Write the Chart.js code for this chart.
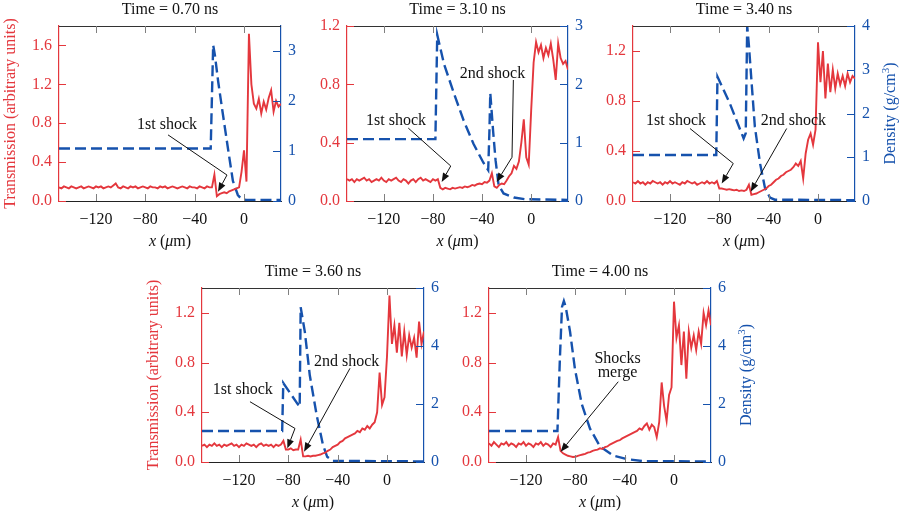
<!DOCTYPE html>
<html>
<head>
<meta charset="utf-8">
<script src="https://cdn.jsdelivr.net/npm/chart.js@4.4.1/dist/chart.umd.min.js"></script>
<style>
  body { margin: 0; background: #fff; }
  #wrap { position: relative; width: 900px; height: 511px; }
  #wrap canvas { position: absolute; left: 0; top: 0; }
</style>
</head>
<body>
<div id="wrap">
  <canvas id="p070" width="900" height="511"></canvas>
  <canvas id="p310" width="900" height="511"></canvas>
  <canvas id="p340" width="900" height="511"></canvas>
  <canvas id="p360" width="900" height="511"></canvas>
  <canvas id="p400" width="900" height="511"></canvas>
</div>
<script>
const RED = '#e4373d';
const BLUE = '#1652ad';
const FONT = "'Liberation Serif', 'Times New Roman', serif";

// positions along x (um) where transmission was sampled
const transX = [
	-150, -148, -146, -144, -142, -140, -138, -136, -134, -132,
	-130, -128, -126, -124, -122, -120, -118, -116, -114, -112,
	-110, -108, -106, -104, -102, -100, -98, -96, -94, -92,
	-90, -88, -86, -84, -82, -80, -78, -76, -74, -72,
	-70, -68, -66, -64, -62, -60, -58, -56, -54, -52,
	-50, -48, -46, -44, -42, -40, -38, -36, -34, -32,
	-30, -28, -26, -24, -22, -20, -18, -16, -14, -12,
	-10, -8, -6, -4, -2, 0, 2, 4, 6, 8,
	10, 12, 14, 16, 18, 20, 22, 24, 26, 28,
	30,
];

const trans070 = [
	0.14, 0.13, 0.15, 0.14, 0.13, 0.15, 0.14, 0.13, 0.14, 0.15,
	0.13, 0.14, 0.15, 0.14, 0.13, 0.15, 0.14, 0.15, 0.13, 0.14,
	0.15, 0.14, 0.16, 0.18, 0.14, 0.13, 0.15, 0.14, 0.13, 0.15,
	0.14, 0.15, 0.13, 0.14, 0.15, 0.14, 0.13, 0.15, 0.14, 0.14,
	0.13, 0.15, 0.14, 0.15, 0.13, 0.14, 0.15, 0.14, 0.13, 0.14,
	0.15, 0.14, 0.13, 0.15, 0.14, 0.14, 0.13, 0.15, 0.14, 0.13,
	0.15, 0.14, 0.14, 0.27, 0.05, 0.07, 0.08, 0.09, 0.08, 0.10,
	0.11, 0.12, 0.13, 0.14, 0.30, 0.52, 0.20, 1.72, 1.20, 1.00,
	0.95, 1.05, 0.90, 1.02, 0.94, 1.06, 1.14, 0.92, 1.03, 0.97,
	1.00,
];
const trans310 = [
	0.15, 0.14, 0.15, 0.13, 0.15, 0.14, 0.15, 0.16, 0.14, 0.15,
	0.13, 0.14, 0.15, 0.14, 0.16, 0.14, 0.13, 0.15, 0.14, 0.15,
	0.16, 0.14, 0.13, 0.15, 0.14, 0.12, 0.14, 0.15, 0.13, 0.15,
	0.16, 0.14, 0.15, 0.14, 0.13, 0.15, 0.14, 0.15, 0.09, 0.08,
	0.09, 0.085, 0.08, 0.09, 0.085, 0.09, 0.095, 0.09, 0.10, 0.095,
	0.10, 0.11, 0.105, 0.115, 0.12, 0.115, 0.13, 0.125, 0.14, 0.19,
	0.10, 0.09, 0.11, 0.12, 0.115, 0.14, 0.17, 0.19, 0.24, 0.22,
	0.27, 0.40, 0.56, 0.30, 0.25, 0.62, 0.95, 1.09, 1.02, 1.07,
	0.98, 1.05, 1.00, 1.08, 0.97, 0.83, 1.08, 0.98, 0.94, 0.96,
	0.90,
];
const trans340 = [
	0.15, 0.14, 0.16, 0.14, 0.15, 0.13, 0.15, 0.14, 0.16, 0.15,
	0.14, 0.15, 0.13, 0.15, 0.14, 0.16, 0.14, 0.15, 0.14, 0.13,
	0.15, 0.14, 0.16, 0.15, 0.14, 0.15, 0.13, 0.14, 0.15, 0.14,
	0.16, 0.14, 0.15, 0.14, 0.16, 0.10, 0.10, 0.095, 0.09, 0.095,
	0.09, 0.085, 0.09, 0.08, 0.085, 0.08, 0.09, 0.13, 0.05, 0.055,
	0.06, 0.07, 0.08, 0.09, 0.10, 0.12, 0.13, 0.15, 0.17, 0.18,
	0.20, 0.21, 0.23, 0.24, 0.25, 0.27, 0.30, 0.28, 0.32, 0.18,
	0.38, 0.49, 0.54, 0.45, 0.57, 1.27, 0.95, 1.20, 0.82, 1.10,
	0.87, 1.05, 0.90, 1.02, 0.93, 1.00, 0.92, 1.02, 0.95, 1.00,
	0.98,
];
const trans360 = [
	0.13, 0.14, 0.12, 0.14, 0.13, 0.15, 0.13, 0.14, 0.12, 0.14,
	0.13, 0.14, 0.15, 0.13, 0.14, 0.12, 0.14, 0.13, 0.15, 0.14,
	0.13, 0.14, 0.12, 0.14, 0.15, 0.13, 0.14, 0.13, 0.14, 0.12,
	0.14, 0.13, 0.14, 0.17, 0.10, 0.10, 0.11, 0.095, 0.10, 0.10,
	0.18, 0.045, 0.045, 0.05, 0.045, 0.05, 0.05, 0.055, 0.06, 0.07,
	0.075, 0.09, 0.10, 0.12, 0.13, 0.14, 0.16, 0.17, 0.19, 0.20,
	0.21, 0.22, 0.23, 0.25, 0.24, 0.27, 0.26, 0.29, 0.27, 0.30,
	0.32, 0.40, 0.72, 0.46, 0.52, 0.85, 1.34, 0.95, 1.10, 0.88,
	1.12, 0.85, 1.05, 0.86, 1.02, 0.92, 1.00, 0.84, 1.13, 0.95,
	1.05,
];
const trans400 = [
	0.15, 0.13, 0.16, 0.14, 0.12, 0.15, 0.14, 0.16, 0.13, 0.15,
	0.14, 0.12, 0.15, 0.14, 0.16, 0.13, 0.15, 0.14, 0.12, 0.15,
	0.14, 0.16, 0.13, 0.15, 0.14, 0.12, 0.15, 0.14, 0.20, 0.09,
	0.07, 0.06, 0.05, 0.045, 0.04, 0.042, 0.05, 0.055, 0.06, 0.065,
	0.075, 0.08, 0.09, 0.095, 0.10, 0.11, 0.105, 0.12, 0.125, 0.14,
	0.15, 0.16, 0.17, 0.175, 0.19, 0.20, 0.21, 0.22, 0.23, 0.24,
	0.25, 0.27, 0.26, 0.29, 0.31, 0.26, 0.30, 0.28, 0.20, 0.32,
	0.64, 0.45, 0.33, 0.54, 0.60, 1.29, 1.00, 1.10, 0.78, 1.05,
	0.67, 1.05, 0.92, 1.02, 0.90, 1.05, 0.95, 1.20, 1.10, 1.22,
	1.10,
];

// density profiles (g/cm3)
const dens070X = [-150, -27, -25, -23.5, -21, -17.5, -13, -9, -5, -2, 2, 30];
const dens070 = [1.05, 1.05, 3.12, 2.9, 2.4, 1.8, 1.05, 0.4, 0.12, 0.04, 0.02, 0.02];
const dens310X = [-150, -78, -76.5, -71, -63, -55, -47, -39, -35, -34, -33.3, -31, -29, -26.5, -22.5, -14, -5, 30];
const dens310 = [1.06, 1.06, 2.85, 2.35, 1.85, 1.38, 0.98, 0.66, 0.53, 1.2, 1.85, 1.2, 0.7, 0.27, 0.13, 0.06, 0.03, 0.02];
const dens340X = [-150, -82.5, -81.5, -71.5, -60.3, -58.6, -57.4, -56, -54, -51.2, -47, -43, -39, -35, 30];
const dens340 = [1.05, 1.05, 2.84, 2.23, 1.43, 1.55, 4.0, 3.55, 2.77, 1.7, 0.86, 0.3, 0.08, 0.03, 0.02];
const dens360X = [-150, -85, -84.1, -72, -70.8, -70, -66.6, -62.6, -57, -52, -48.5, -44, 30];
const dens360 = [1.07, 1.07, 2.72, 1.97, 1.9, 5.34, 4.48, 2.99, 1.61, 0.6, 0.18, 0.04, 0.02];
const dens400X = [-150, -94.5, -92.5, -90.8, -89.3, -87.8, -84.3, -80.3, -74.8, -68.1, -60, -49.2, -38.3, -25, 30];
const dens400 = [1.07, 1.07, 3.6, 5.35, 5.55, 5.35, 4.5, 3.2, 2.0, 1.15, 0.54, 0.22, 0.1, 0.03, 0.02];

const xTicks = [-120, -80, -40, 0];
const transTicks070 = [0, 0.4, 0.8, 1.2, 1.6];
const transTicks = [0, 0.4, 0.8, 1.2];
const densTicks070 = [0, 1, 2, 3];
const densTicks310 = [0, 1, 2, 3];
const densTicks340 = [0, 1, 2, 3, 4];
const densTicks4 = [0, 2, 4, 6];

const panels = [
	{
		id: 'p070', title: 'Time = 0.70 ns', area: [59, 26, 281, 201],
		trans: trans070, densX: dens070X, dens: dens070,
		tMax: 1.8, dMax: 3.5, tTicks: transTicks070, dTicks: densTicks070,
		leftLabel: true, rightLabel: false,
		notes: [
			{ lines: ['1st shock'], at: [-62.4, 0.78], path: [[-61.6, 0.68], [-13.8, 0.267], [-21.1, 0.096]] },
		],
	},
	{
		id: 'p310', title: 'Time = 3.10 ns', area: [347, 26, 568, 201],
		trans: trans310, densX: dens310X, dens: dens310,
		tMax: 1.2, dMax: 3, tTicks: transTicks, dTicks: densTicks310,
		leftLabel: false, rightLabel: false,
		notes: [
			{ lines: ['1st shock'], at: [-110.1, 0.55], path: [[-100.1, 0.5], [-65.5, 0.24], [-72.9, 0.13]] },
			{ lines: ['2nd shock'], at: [-31.5, 0.87], path: [[-14.5, 0.83], [-15.6, 0.3], [-28.1, 0.13]] },
		],
	},
	{
		id: 'p340', title: 'Time = 3.40 ns', area: [633, 26, 855, 201],
		trans: trans340, densX: dens340X, dens: dens340,
		tMax: 1.4, dMax: 4, tTicks: transTicks, dTicks: densTicks340,
		leftLabel: false, rightLabel: true,
		notes: [
			{ lines: ['1st shock'], at: [-115.1, 0.64], path: [[-103.8, 0.58], [-68.7, 0.3], [-78.1, 0.14]] },
			{ lines: ['2nd shock'], at: [-19.9, 0.64], path: [[-25.4, 0.58], [-54.6, 0.075]] },
		],
	},
	{
		id: 'p360', title: 'Time = 3.60 ns', area: [202, 288, 424, 462],
		trans: trans360, densX: dens360X, dens: dens360,
		tMax: 1.4, dMax: 6, tTicks: transTicks, dTicks: densTicks4,
		leftLabel: true, rightLabel: false,
		notes: [
			{ lines: ['1st shock'], at: [-116.9, 0.58], path: [[-111.1, 0.485], [-74.6, 0.27], [-80.8, 0.11]] },
			{ lines: ['2nd shock'], at: [-32.7, 0.81], path: [[-30, 0.754], [-67.3, 0.083]] },
		],
	},
	{
		id: 'p400', title: 'Time = 4.00 ns', area: [489, 288, 711, 462],
		trans: trans400, densX: dens400X, dens: dens400,
		tMax: 1.4, dMax: 6, tTicks: transTicks, dTicks: densTicks4,
		leftLabel: false, rightLabel: true,
		notes: [
			{ lines: ['Shocks', 'merge'], at: [-45.8, 0.834], path: [[-45.2, 0.646], [-91.9, 0.083]] },
		],
	},
];

Chart.defaults.font.family = FONT;
Chart.defaults.font.size = 16;

function seg( ctx, x1, y1, x2, y2 ) {
	ctx.beginPath();
	ctx.moveTo( x1, y1 );
	ctx.lineTo( x2, y2 );
	ctx.stroke();
}

// draws a run of [text, italic, superscript] pieces centred on (cx, cy)
function richText( ctx, parts, cx, cy ) {
	const fontFor = ( p ) => `${ p[1] ? 'italic ' : '' }${ p[2] ? 11 : 16 }px ${ FONT }`;
	let total = 0;
	parts.forEach( ( p ) => {
		ctx.font = fontFor( p );
		total += ctx.measureText( p[0] ).width;
	} );
	let x = cx - total / 2;
	ctx.textAlign = 'left';
	parts.forEach( ( p ) => {
		ctx.font = fontFor( p );
		ctx.fillText( p[0], x, p[2] ? cy - 5 : cy );
		x += ctx.measureText( p[0] ).width;
	} );
}

const decor = {
	id: 'decor',
	afterDraw( chart, args, o ) {
		const { ctx, chartArea: a, scales } = chart;
		const sx = scales.x, yL = scales.yL, yR = scales.yR;
		ctx.save();
		ctx.lineWidth = 1;

		// top frame and inward ticks
		ctx.strokeStyle = '#333';
		seg( ctx, a.left, a.top + 0.5, a.right, a.top + 0.5 );
		ctx.strokeStyle = '#808080';
		xTicks.forEach( ( v ) => {
			const px = Math.round( sx.getPixelForValue( v ) ) + 0.5;
			seg( ctx, px, a.top, px, a.top + 7 );
			seg( ctx, px, a.bottom, px, a.bottom - 7 );
		} );
		ctx.strokeStyle = RED;
		o.tTicks.forEach( ( v ) => {
			const py = Math.round( yL.getPixelForValue( v ) ) + 0.5;
			seg( ctx, a.left, py, a.left + 7, py );
		} );
		ctx.strokeStyle = BLUE;
		o.dTicks.forEach( ( v ) => {
			const py = Math.round( yR.getPixelForValue( v ) ) + 0.5;
			seg( ctx, a.right, py, a.right - 8, py );
		} );

		// titles
		const cx = ( a.left + a.right ) / 2;
		const cy = ( a.top + a.bottom ) / 2;
		ctx.fillStyle = '#111';
		ctx.textBaseline = 'middle';
		ctx.textAlign = 'center';
		ctx.font = `16px ${ FONT }`;
		ctx.fillText( o.title, cx, a.top - 16 );
		richText( ctx, [ [ 'x', true ], [ ' (', false ], [ '\u03bc', true ], [ 'm)', false ] ], cx, a.bottom + 41 );

		if ( o.leftLabel ) {
			ctx.save();
			ctx.translate( a.left - 48, cy );
			ctx.rotate( -Math.PI / 2 );
			ctx.fillStyle = RED;
			ctx.textAlign = 'center';
			ctx.font = `16px ${ FONT }`;
			ctx.fillText( 'Transmission (arbitrary units)', 0, 0 );
			ctx.restore();
		}
		if ( o.rightLabel ) {
			ctx.save();
			ctx.translate( a.right + 36, cy );
			ctx.rotate( -Math.PI / 2 );
			ctx.fillStyle = BLUE;
			richText( ctx, [ [ 'Density (g/cm', false ], [ '3', false, true ], [ ')', false ] ], 0, 0 );
			ctx.restore();
		}

		// shock annotations
		ctx.fillStyle = '#111';
		ctx.strokeStyle = '#111';
		o.notes.forEach( ( n ) => {
			ctx.textAlign = 'center';
			ctx.font = `16px ${ FONT }`;
			const tx = sx.getPixelForValue( n.at[0] );
			const ty = yL.getPixelForValue( n.at[1] );
			n.lines.forEach( ( t, i ) => ctx.fillText( t, tx, ty + i * 14 ) );

			const pts = n.path.map( ( p ) => [ sx.getPixelForValue( p[0] ), yL.getPixelForValue( p[1] ) ] );
			const tip = pts[ pts.length - 1 ];
			const prev = pts[ pts.length - 2 ];
			const ang = Math.atan2( tip[1] - prev[1], tip[0] - prev[0] );
			const len = 9;
			const base = [ tip[0] - len * Math.cos( ang ), tip[1] - len * Math.sin( ang ) ];
			ctx.beginPath();
			ctx.moveTo( pts[0][0], pts[0][1] );
			for ( let i = 1; i < pts.length - 1; i++ ) {
				ctx.lineTo( pts[i][0], pts[i][1] );
			}
			ctx.lineTo( base[0], base[1] );
			ctx.stroke();
			ctx.beginPath();
			ctx.moveTo( tip[0], tip[1] );
			ctx.lineTo( base[0] + 3.5 * Math.sin( ang ), base[1] - 3.5 * Math.cos( ang ) );
			ctx.lineTo( base[0] - 3.5 * Math.sin( ang ), base[1] + 3.5 * Math.cos( ang ) );
			ctx.closePath();
			ctx.fill();
		} );
		ctx.restore();
	},
};

panels.forEach( ( p ) => {
	const [ L, T, R, B ] = p.area;
	new Chart( document.getElementById( p.id ), { // eslint-disable-line no-new
		type: 'line',
		data: {
			datasets: [
				{
					data: transX.map( ( x, i ) => ( { x, y: p.trans[ i ] } ) ),
					yAxisID: 'yL',
					borderColor: RED,
					borderWidth: 1.9,
					pointRadius: 0,
					tension: 0,
				},
				{
					data: p.densX.map( ( x, i ) => ( { x, y: p.dens[ i ] } ) ),
					yAxisID: 'yR',
					borderColor: BLUE,
					borderWidth: 2.4,
					borderDash: [ 11, 5 ],
					pointRadius: 0,
					tension: 0,
				},
			],
		},
		options: {
			responsive: false,
			animation: false,
			devicePixelRatio: 1,
			layout: {
				padding: { left: L - 40, right: 900 - R - 40, top: T, bottom: 511 - B - 30 },
			},
			plugins: {
				legend: { display: false },
				tooltip: { enabled: false },
				decor: p,
			},
			scales: {
				x: {
					type: 'linear',
					position: 'bottom',
					min: -150,
					max: 30,
					afterBuildTicks: ( s ) => { s.ticks = xTicks.map( ( value ) => ( { value } ) ); },
					afterFit: ( s ) => { s.height = 30; },
					grid: { display: false, drawTicks: false },
					border: { color: '#222', width: 1 },
					ticks: {
						color: '#111',
						padding: 9,
						maxRotation: 0,
						callback: ( v ) => String( v ).replace( '-', '\u2212' ),
					},
				},
				yL: {
					position: 'left',
					min: 0,
					max: p.tMax,
					afterBuildTicks: ( s ) => { s.ticks = p.tTicks.map( ( value ) => ( { value } ) ); },
					afterFit: ( s ) => { s.width = 40; },
					grid: { display: false, drawTicks: false },
					border: { color: RED, width: 1.2 },
					ticks: { color: RED, padding: 7, callback: ( v ) => v.toFixed( 1 ) },
				},
				yR: {
					position: 'right',
					min: 0,
					max: p.dMax,
					afterBuildTicks: ( s ) => { s.ticks = p.dTicks.map( ( value ) => ( { value } ) ); },
					afterFit: ( s ) => { s.width = 40; },
					grid: { display: false, drawTicks: false },
					border: { color: BLUE, width: 1.2 },
					ticks: { color: BLUE, padding: 7, callback: ( v ) => String( v ) },
				},
			},
		},
		plugins: [ decor ],
	} );
} );
</script>
</body>
</html>
